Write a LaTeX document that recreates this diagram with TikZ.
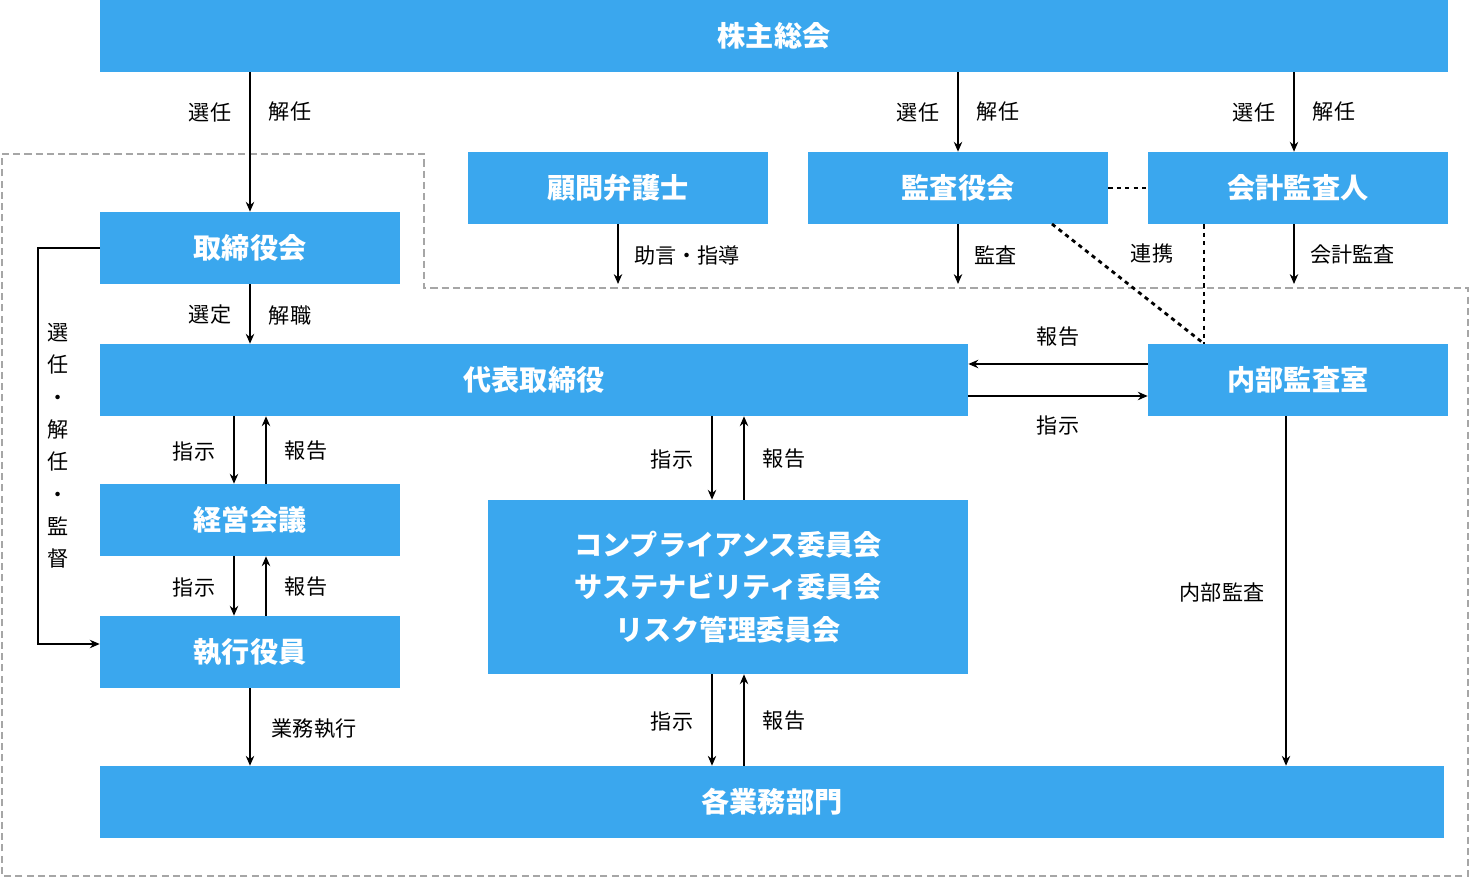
\documentclass[tikz,border=0pt]{standalone}
\usepackage{fontspec}
\setmainfont{Noto Sans CJK JP}
\usetikzlibrary{positioning,arrows.meta}
\definecolor{boxblue}{HTML}{3AA7EE}
\tikzstyle{box} = [rectangle, fill=boxblue, text=white, inner sep=0pt, minimum height=1.8cm, font=\fontsize{20}{28}\selectfont\bfseries, align=center]
\tikzstyle{lbl} = [inner sep=0pt, font=\fontsize{15}{18}\selectfont]
\tikzstyle{arrow} = [line width=1pt, -{Stealth[length=7pt,width=6pt]}]
\tikzstyle{link} = [line width=2pt, dash pattern=on 3pt off 3pt]

\begin{document}
\begin{tikzpicture}[x=0.025cm, y=-0.025cm]
\useasboundingbox (0,0) rectangle (1470,878);
% outer frame
\draw [gray!70, line width=1.5pt, dash pattern=on 5pt off 3pt] (2,154) -- (424,154) -- (424,288) -- (1468,288) -- (1468,876) -- (2,876) -- cycle;

\node (kabu) [box, minimum width=33.7cm] at (774,36) {株主総会};
\node (komon) [box, minimum width=7.5cm] at (618,188) {顧問弁護士};
\node (kansa) [box, minimum width=7.5cm] at (958,188) {監査役会};
\node (kaikei) [box, minimum width=7.5cm] at (1298,188) {会計監査人};
\node (torikai) [box, minimum width=7.5cm] at (250,248) {取締役会};
\node (daihyo) [box, minimum width=21.7cm] at (534,380) {代表取締役};
\node (naibu) [box, minimum width=7.5cm] at (1298,380) {内部監査室};
\node (keiei) [box, minimum width=7.5cm] at (250,520) {経営会議};
\node (shikko) [box, minimum width=7.5cm] at (250,652) {執行役員};
\node (iinkai) [box, minimum width=12cm, minimum height=4.35cm, font=\fontsize{20}{30}\selectfont\bfseries] at (728,587) {コンプライアンス委員会\\サステナビリティ委員会\\リスク管理委員会};
\node (bumon) [box, minimum width=33.6cm] at (772,802) {各業務部門};

\coordinate (lim) at (0,284);

% shareholders
\draw [arrow] (kabu.south -| torikai) -- (torikai.north);
\node (l1) [lbl] at (210,112) {選任};
\node (l2) [lbl] at (290,112) {解任};
\draw [arrow] (kabu.south -| kansa) -- (kansa.north);
\node (l3) [lbl] at (918,112) {選任};
\node (l4) [lbl] at (998,112) {解任};
\draw [arrow] (kabu.south -| 1294,0) -- (kaikei.north -| 1294,0);
\node (l5) [lbl] at (1254,112) {選任};
\node (l6) [lbl] at (1334,112) {解任};

% audit
\draw [arrow] (komon.south) -- (lim -| komon);
\node (l7) [lbl, anchor=west] at (634,255) {助言・指導};
\draw [arrow] (kansa.south) -- (lim -| kansa);
\node (l8) [lbl, anchor=west] at (974,255) {監査};
\draw [arrow] (kaikei.south -| 1294,0) -- (lim -| 1294,0);
\node (l9) [lbl, anchor=west] at (1310,255) {会計監査};
\draw [link] (kansa.east) -- (kaikei.west);
\draw [link] (1052,224) -- (naibu.north -| 1204,0);
\draw [link] (kaikei.south -| 1204,0) -- (naibu.north -| 1204,0);
\node (l10) [lbl] at (1152,254) {連携};

% board
\draw [arrow] (torikai.south) -- (daihyo.north -| torikai);
\node (l11) [lbl] at (210,315) {選定};
\node (l12) [lbl] at (290,315) {解職};
\draw [arrow] (torikai.west) -- (38,248) -- (38,644) -- (shikko.west |- 0,644);
\node (l13) [lbl, align=center, font=\fontsize{15}{23}\selectfont] at (58,446) {選\\任\\・\\解\\任\\・\\監\\督};

% internal audit
\draw [arrow] (naibu.west |- 0,364) -- (daihyo.east |- 0,364);
\draw [arrow] (daihyo.east |- 0,396) -- (naibu.west |- 0,396);
\node (l14) [lbl] at (1058,337) {報告};
\node (l15) [lbl] at (1058,425) {指示};
\draw [arrow] (naibu.south -| 1286,0) -- (bumon.north -| 1286,0);
\node (l16) [lbl] at (1222,593) {内部監査};

% executive line
\draw [arrow] (daihyo.south -| 234,0) -- (keiei.north -| 234,0);
\draw [arrow] (keiei.north -| 266,0) -- (daihyo.south -| 266,0);
\node (l17) [lbl] at (194,451) {指示};
\node (l18) [lbl] at (306,451) {報告};
\draw [arrow] (keiei.south -| 234,0) -- (shikko.north -| 234,0);
\draw [arrow] (shikko.north -| 266,0) -- (keiei.south -| 266,0);
\node (l19) [lbl] at (194,587) {指示};
\node (l20) [lbl] at (306,587) {報告};
\draw [arrow] (shikko.south) -- (bumon.north -| shikko);
\node (l21) [lbl] at (314,729) {業務執行};

% committees
\draw [arrow] (daihyo.south -| 712,0) -- (iinkai.north -| 712,0);
\draw [arrow] (iinkai.north -| 744,0) -- (daihyo.south -| 744,0);
\node (l22) [lbl] at (672,459) {指示};
\node (l23) [lbl] at (784,459) {報告};
\draw [arrow] (iinkai.south -| 712,0) -- (bumon.north -| 712,0);
\draw [arrow] (bumon.north -| 744,0) -- (iinkai.south -| 744,0);
\node (l24) [lbl] at (672,721) {指示};
\node (l25) [lbl] at (784,721) {報告};
\end{tikzpicture}
\end{document}
